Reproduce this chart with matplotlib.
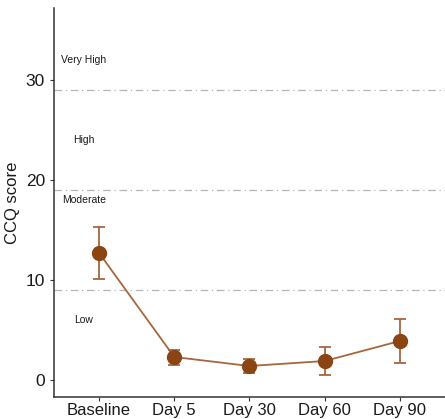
import matplotlib.pyplot as plt

plt.rcParams['font.family'] = ['Liberation Sans', 'DejaVu Sans']

# data
timepoints = ["Baseline", "Day 5", "Day 30", "Day 60", "Day 90"]
ccq_mean = [12.7, 2.3, 1.4, 1.9, 3.9]
ccq_low = [10.1, 1.5, 0.7, 0.5, 1.7]
ccq_high = [15.3, 3.0, 2.1, 3.3, 6.1]

cutoffs = [9, 19, 29]
zone_labels = ["Low", "Moderate", "High", "Very High"]
zone_label_y = [6, 18, 24, 32]

fig = plt.figure(figsize=(4.45, 4.19), dpi=100)
ax = fig.add_axes([0.1213, 0.0525, 0.8787, 0.9285])
fig.patch.set_facecolor('#ffffff')

x = list(range(1, len(timepoints) + 1))
yerr = [[m - lo for m, lo in zip(ccq_mean, ccq_low)],
        [hi - m for m, hi in zip(ccq_mean, ccq_high)]]

for c in cutoffs:
    ax.axhline(c, color='#b5b5b5', lw=0.9, ls=(0, (6, 3, 1, 3)), zorder=1)

ax.errorbar(x, ccq_mean, yerr=yerr, fmt='none', ecolor='#a5673f', elinewidth=1.3,
            capsize=4, capthick=1.3, zorder=2)
ax.plot(x, ccq_mean, color='#a5673f', lw=1.3, zorder=3)
ax.plot(x, ccq_mean, 'o', color='#8b4513', ms=10, zorder=4)

for lab, yy in zip(zone_labels, zone_label_y):
    ax.text(0.8, yy, lab, ha='center', va='center', fontsize=7.5, color='#1a1a1a')

ax.set_xlim(0.4, 5.6)
ax.set_ylim(-1.7, 37.2)
ax.set_xticks(x)
ax.set_xticklabels(timepoints, fontsize=12, color='#1a1a1a')
ax.set_yticks([0, 10, 20, 30])
ax.tick_params(axis='y', labelsize=12.5, labelcolor='#1a1a1a')
ax.tick_params(length=3, color='#333333', width=0.8)
ax.tick_params(axis='x', pad=1.5)
ax.set_ylabel("CCQ score", fontsize=12, color='#1a1a1a')

for s in ['top', 'right']:
    ax.spines[s].set_visible(False)
for s in ['left', 'bottom']:
    ax.spines[s].set_color('#333333')
    ax.spines[s].set_linewidth(1.1)

plt.savefig('out.png', dpi=100)
